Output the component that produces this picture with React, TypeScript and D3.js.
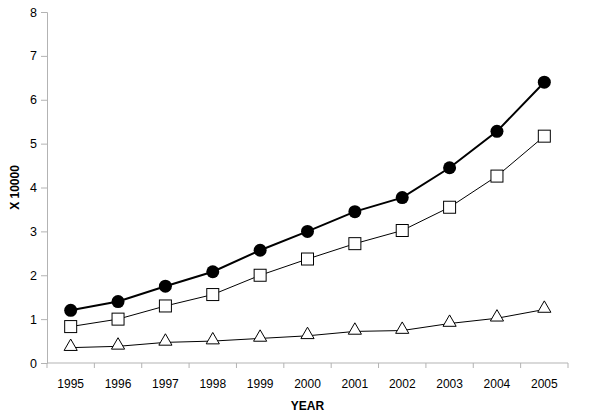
import React, { useEffect, useRef } from 'react';
import * as d3 from 'd3';

const years = ['1995', '1996', '1997', '1998', '1999', '2000', '2001', '2002', '2003', '2004', '2005'];
const circleSeries = [1.2, 1.4, 1.75, 2.08, 2.57, 3.0, 3.45, 3.77, 4.45, 5.28, 6.4];
const squareSeries = [0.83, 1.0, 1.3, 1.56, 2.0, 2.37, 2.72, 3.02, 3.55, 4.26, 5.17];
const triangleSeries = [0.35, 0.38, 0.47, 0.5, 0.56, 0.62, 0.72, 0.74, 0.9, 1.02, 1.22];
const yTicks = [0, 1, 2, 3, 4, 5, 6, 7, 8];

const App = () => {
  const svgRef = useRef<SVGSVGElement>(null);

  useEffect(() => {
    const svg = d3.select(svgRef.current);
    svg.selectAll('*').remove();

    const margin = { top: 12, right: 32, bottom: 57, left: 47 };
    const width = 600 - margin.left - margin.right;
    const height = 420 - margin.top - margin.bottom;
    const font = 'Liberation Sans, Arial, sans-serif';

    const g = svg.append('g').attr('transform', `translate(${margin.left},${margin.top})`);

    const x = d3.scaleBand().domain(years).range([0, width]).padding(0);
    const y = d3.scaleLinear().domain([0, 8]).range([height, 0]);
    const cx = (d: string) => (x(d) as number) + x.bandwidth() / 2;

    // y axis
    const yAxis = g.append('g').call(d3.axisLeft(y).tickValues(yTicks).tickSize(6).tickPadding(4).tickFormat(d3.format('d')));
    yAxis.select('.domain').attr('stroke', '#b3b3b3');
    yAxis.selectAll('line').attr('stroke', '#b3b3b3');
    yAxis.selectAll('text').attr('font-family', font).attr('font-size', 12.5).attr('fill', '#000');

    // x axis: ticks between categories
    const xAxis = g.append('g').attr('transform', `translate(0,${height})`);
    xAxis.append('line').attr('x1', 0).attr('x2', width).attr('stroke', '#b3b3b3');
    const bounds = years.map((d) => (x(d) as number)).concat([width]);
    xAxis.selectAll('.tk').data(bounds).enter().append('line')
      .attr('x1', (d) => d).attr('x2', (d) => d).attr('y1', 0).attr('y2', 5).attr('stroke', '#b3b3b3');
    xAxis.selectAll('.lbl').data(years).enter().append('text')
      .attr('x', (d) => cx(d)).attr('y', 25).attr('text-anchor', 'middle')
      .attr('font-family', font).attr('font-size', 12).text((d) => d);

    // axis titles
    g.append('text').attr('x', width / 2).attr('y', height + 47).attr('text-anchor', 'middle')
      .attr('font-family', font).attr('font-size', 12).attr('font-weight', 'bold').text('YEAR');
    g.append('text').attr('transform', `translate(${-28},${height / 2}) rotate(-90)`).attr('text-anchor', 'middle')
      .attr('font-family', font).attr('font-size', 12).attr('font-weight', 'bold').text('X 10000');

    const line = d3.line<number>().x((_, i) => cx(years[i])).y((d) => y(d));

    // triangles
    g.append('path').datum(triangleSeries).attr('d', line).attr('fill', 'none').attr('stroke', '#000').attr('stroke-width', 1);
    g.selectAll('.tri').data(triangleSeries).enter().append('path')
      .attr('d', d3.symbol().type(d3.symbolTriangle).size(75))
      .attr('transform', (d, i) => `translate(${cx(years[i])},${y(d) - 1})`)
      .attr('fill', '#fff').attr('stroke', '#000').attr('stroke-width', 1);

    // squares
    g.append('path').datum(squareSeries).attr('d', line).attr('fill', 'none').attr('stroke', '#000').attr('stroke-width', 1);
    g.selectAll('.sq').data(squareSeries).enter().append('rect')
      .attr('x', (d, i) => cx(years[i]) - 6).attr('y', (d) => y(d) - 6)
      .attr('width', 12).attr('height', 12)
      .attr('fill', '#fff').attr('stroke', '#000').attr('stroke-width', 1);

    // circles
    g.append('path').datum(circleSeries).attr('d', line).attr('fill', 'none').attr('stroke', '#000').attr('stroke-width', 2);
    g.selectAll('.ci').data(circleSeries).enter().append('circle')
      .attr('cx', (d, i) => cx(years[i])).attr('cy', (d) => y(d)).attr('r', 6.5)
      .attr('fill', '#000');
  }, []);

  return (
    <svg
      ref={svgRef}
      width={600}
      height={420}
      style={{ position: 'absolute', left: 0, top: 0, background: '#fff' }}
    />
  );
};

export default App;
